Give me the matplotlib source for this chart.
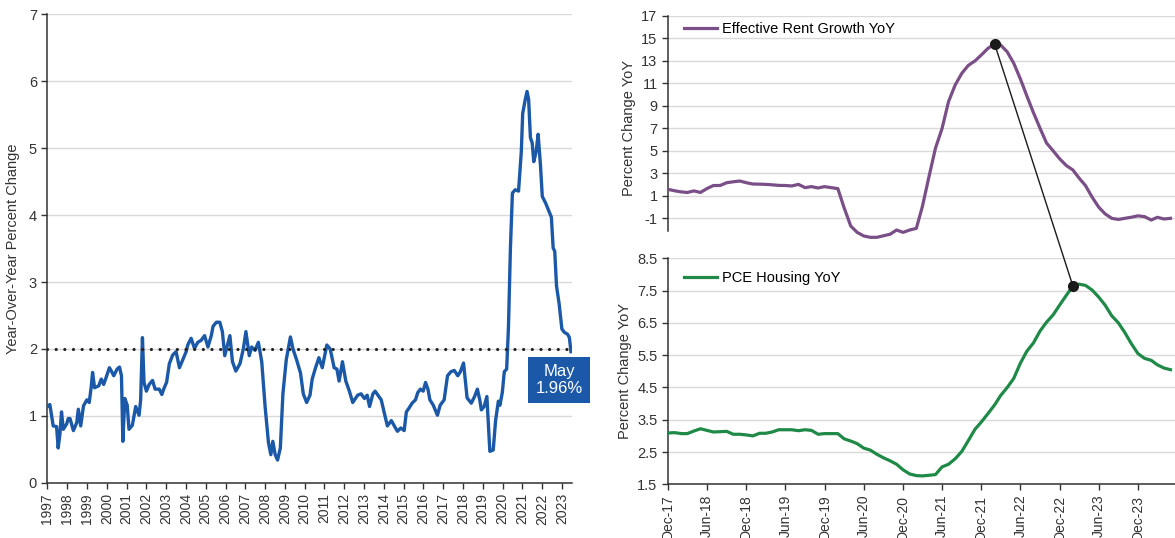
import numpy as np
import pandas as pd
import matplotlib
matplotlib.use('Agg')
import matplotlib.pyplot as plt
import matplotlib.dates as mdates
from matplotlib.patches import ConnectionPatch

plt.rcParams['font.family'] = ['Liberation Sans', 'DejaVu Sans']
plt.rcParams['axes.unicode_minus'] = False

# left panel: year-over-year percent change, 1997 - May 2023
left_years = [
    1997.00, 1997.12, 1997.29, 1997.46, 1997.54, 1997.63, 1997.71, 1997.80, 1997.97, 1998.05,
    1998.14, 1998.31, 1998.48, 1998.56, 1998.68, 1998.82, 1998.99, 1999.11, 1999.21, 1999.28,
    1999.38, 1999.59, 1999.72, 1999.84, 1999.96, 2000.13, 2000.23, 2000.35, 2000.52, 2000.64,
    2000.74, 2000.81, 2000.91, 2001.03, 2001.12, 2001.29, 2001.46, 2001.63, 2001.71, 2001.80,
    2001.88, 2002.00, 2002.14, 2002.31, 2002.44, 2002.65, 2002.78, 2002.90, 2003.02, 2003.16,
    2003.33, 2003.50, 2003.67, 2003.84, 2004.01, 2004.09, 2004.26, 2004.43, 2004.60, 2004.77,
    2004.94, 2005.11, 2005.28, 2005.37, 2005.54, 2005.71, 2005.84, 2005.96, 2006.08, 2006.22,
    2006.35, 2006.52, 2006.73, 2006.90, 2007.03, 2007.20, 2007.32, 2007.49, 2007.66, 2007.83,
    2008.00, 2008.17, 2008.29, 2008.39, 2008.51, 2008.63, 2008.77, 2008.90, 2009.07, 2009.28,
    2009.41, 2009.59, 2009.79, 2009.93, 2010.10, 2010.27, 2010.38, 2010.55, 2010.72, 2010.89,
    2011.12, 2011.29, 2011.49, 2011.63, 2011.74, 2011.91, 2012.08, 2012.26, 2012.43, 2012.68,
    2012.85, 2013.02, 2013.16, 2013.28, 2013.45, 2013.56, 2013.70, 2013.87, 2014.04, 2014.18,
    2014.38, 2014.55, 2014.69, 2014.86, 2015.03, 2015.14, 2015.26, 2015.43, 2015.60, 2015.72,
    2015.85, 2015.99, 2016.11, 2016.23, 2016.33, 2016.50, 2016.71, 2016.85, 2017.05, 2017.22,
    2017.39, 2017.56, 2017.74, 2017.87, 2018.03, 2018.21, 2018.42, 2018.59, 2018.73, 2018.85,
    2018.93, 2019.07, 2019.21, 2019.36, 2019.53, 2019.65, 2019.79, 2019.87, 2019.99, 2020.09,
    2020.21, 2020.30, 2020.40, 2020.50, 2020.64, 2020.81, 2020.95, 2021.02, 2021.15, 2021.24,
    2021.32, 2021.41, 2021.50, 2021.58, 2021.70, 2021.80, 2021.92, 2022.01, 2022.18, 2022.32,
    2022.47, 2022.56, 2022.64, 2022.73, 2022.86, 2023.00, 2023.12, 2023.29, 2023.38, 2023.46,
]
left_vals = [
    1.14, 1.17, 0.85, 0.84, 0.52, 0.73, 1.06, 0.80, 0.88, 0.96,
    0.96, 0.78, 0.90, 1.10, 0.85, 1.15, 1.24, 1.20, 1.43, 1.65,
    1.42, 1.45, 1.55, 1.47, 1.57, 1.72, 1.67, 1.60, 1.70, 1.73,
    1.60, 0.62, 1.26, 1.16, 0.80, 0.86, 1.14, 1.01, 1.24, 2.17,
    1.50, 1.37, 1.47, 1.53, 1.40, 1.40, 1.32, 1.42, 1.50, 1.78,
    1.91, 1.96, 1.72, 1.84, 1.96, 2.06, 2.16, 2.01, 2.10, 2.13,
    2.20, 2.03, 2.20, 2.34, 2.40, 2.40, 2.26, 1.90, 2.04, 2.20,
    1.81, 1.67, 1.78, 2.00, 2.26, 1.90, 2.03, 1.98, 2.10, 1.81,
    1.14, 0.60, 0.42, 0.62, 0.42, 0.34, 0.52, 1.33, 1.84, 2.18,
    2.00, 1.84, 1.64, 1.33, 1.20, 1.31, 1.55, 1.72, 1.87, 1.72,
    2.06, 2.00, 1.72, 1.70, 1.52, 1.81, 1.52, 1.37, 1.20, 1.31,
    1.33, 1.26, 1.31, 1.14, 1.33, 1.37, 1.31, 1.24, 1.03, 0.85,
    0.93, 0.84, 0.77, 0.82, 0.78, 1.06, 1.11, 1.19, 1.24, 1.35,
    1.40, 1.37, 1.50, 1.40, 1.24, 1.16, 1.01, 1.16, 1.24, 1.60,
    1.66, 1.68, 1.60, 1.66, 1.79, 1.27, 1.19, 1.29, 1.40, 1.24,
    1.09, 1.14, 1.29, 0.47, 0.49, 0.93, 1.22, 1.16, 1.35, 1.66,
    1.70, 2.32, 3.51, 4.33, 4.38, 4.36, 4.95, 5.52, 5.73, 5.85,
    5.73, 5.16, 5.08, 4.80, 4.95, 5.21, 4.74, 4.28, 4.18, 4.08,
    3.97, 3.51, 3.46, 2.94, 2.68, 2.30, 2.25, 2.22, 2.17, 1.96,
]
left_target = 2.0
left_last_label = "May"

# right panels: monthly, Dec-17 onwards
months = pd.date_range('2017-12-01', periods=78, freq='MS')
rent_growth = [
    1.58, 1.45, 1.35, 1.30, 1.44, 1.30, 1.65, 1.92, 1.92, 2.17,
    2.25, 2.32, 2.17, 2.05, 2.04, 2.02, 1.98, 1.93, 1.92, 1.88,
    2.02, 1.73, 1.82, 1.70, 1.82, 1.73, 1.64, -0.05, -1.68, -2.25,
    -2.57, -2.69, -2.69, -2.55, -2.42, -2.04, -2.25, -2.04, -1.89, 0.04,
    2.71, 5.23, 7.00, 9.38, 10.86, 11.90, 12.60, 13.00, 13.53, 14.12,
    14.51, 14.42, 13.80, 12.80, 11.40, 9.90, 8.40, 7.00, 5.70, 5.00,
    4.30, 3.70, 3.30, 2.60, 1.90, 0.90, 0.00, -0.60, -1.00, -1.10,
    -1.00, -0.90, -0.78, -0.85, -1.15, -0.91, -1.06, -1.00,
]
pce_housing = [
    3.09, 3.10, 3.07, 3.07, 3.15, 3.22, 3.17, 3.12, 3.13, 3.14,
    3.05, 3.05, 3.03, 3.00, 3.08, 3.08, 3.12, 3.19, 3.19, 3.19,
    3.16, 3.19, 3.17, 3.05, 3.07, 3.07, 3.07, 2.91, 2.84, 2.76,
    2.62, 2.56, 2.43, 2.32, 2.23, 2.12, 1.95, 1.82, 1.77, 1.76,
    1.78, 1.80, 2.04, 2.12, 2.29, 2.52, 2.85, 3.20, 3.43, 3.69,
    3.96, 4.25, 4.50, 4.78, 5.25, 5.62, 5.88, 6.25, 6.52, 6.75,
    7.05, 7.35, 7.64, 7.70, 7.66, 7.52, 7.30, 7.05, 6.72, 6.50,
    6.20, 5.85, 5.55, 5.40, 5.34, 5.20, 5.10, 5.05,
]
rent_peak = '2022-02-01'
pce_peak = '2023-02-01'

BLUE = '#1b58a7'
PURPLE = '#7a4e86'
GREEN = '#1f8a47'
GRID = '#d9d9d9'
TXT = '#333333'


def style_axis(ax):
    ax.set_facecolor('none')
    ax.grid(axis='y', color=GRID, lw=1.0)
    ax.set_axisbelow(True)
    for s in ['top', 'right']:
        ax.spines[s].set_visible(False)
    for s in ['left', 'bottom']:
        ax.spines[s].set_color(TXT)
        ax.spines[s].set_linewidth(1.1)
    ax.tick_params(colors=TXT, labelsize=10.5, length=4, width=1)


fig = plt.figure(figsize=(11.75, 5.38), dpi=100)

# ---- left chart
ax1 = fig.add_axes([0.0404, 0.1026, 0.4462, 0.8705])
style_axis(ax1)
ax1.plot(left_years, left_vals, color=BLUE, lw=2.4, solid_joinstyle='round', zorder=3)
ax1.axhline(left_target, color='#222222', lw=2.3, dashes=(0.01, 2.7),
            dash_capstyle='round', zorder=4)
ax1.set_xlim(1997, 2023.5)
ax1.set_ylim(0, 7)
ax1.set_yticks(range(0, 8))
ax1.set_xticks(range(1997, 2024))
ax1.set_xticklabels([str(y) for y in range(1997, 2024)], rotation=90, fontsize=10)
ax1.set_ylabel('Year-Over-Year Percent Change', fontsize=10.5, color=TXT, labelpad=6)
ax1.text(2022.86, 1.54, f"{left_last_label}\n{left_vals[-1]:.2f}%", ha='center', va='center',
         color='white', fontsize=12, linespacing=1.15, clip_on=False, zorder=6,
         bbox=dict(boxstyle='square,pad=0.42', fc=BLUE, ec='none'))

# ---- right top chart
ax2 = fig.add_axes([0.5685, 0.5524, 0.4315, 0.4179])
style_axis(ax2)
ax2.plot(months, rent_growth, color=PURPLE, lw=2.3, label='Effective Rent Growth YoY', zorder=3)
ax2.set_ylim(-3.0, 17)
ax2.set_yticks(range(-1, 18, 2))
ax2.spines['left'].set_bounds(-2.1, 17)
ax2.spines['bottom'].set_visible(False)
ax2.tick_params(axis='x', bottom=False, labelbottom=False)
ax2.set_ylabel('Percent Change YoY', fontsize=10.5, color=TXT, labelpad=4)
ax2.legend(loc='upper left', frameon=False, fontsize=10.5, handlelength=2.3,
           handletextpad=0.3, bbox_to_anchor=(0.005, 1.03))

# ---- right bottom chart
ax3 = fig.add_axes([0.5685, 0.0998, 0.4315, 0.4201], sharex=ax2)
style_axis(ax3)
ax3.plot(months, pce_housing, color=GREEN, lw=2.3, label='PCE Housing YoY', zorder=3)
ax3.set_ylim(1.5, 8.5)
ax3.set_yticks(np.arange(1.5, 8.6, 1.0))
ax3.set_ylabel('Percent Change YoY', fontsize=10.5, color=TXT, labelpad=4)
ax3.legend(loc='upper left', frameon=False, fontsize=10.5, handlelength=2.3,
           handletextpad=0.3, bbox_to_anchor=(0.005, 1.0))

xt = pd.date_range('2017-12-01', '2023-12-01', freq='6MS')
ax3.set_xticks(xt)
ax3.xaxis.set_major_formatter(mdates.DateFormatter('%b-%y'))
ax3.set_xlim(months[0], pd.Timestamp('2024-05-22'))
plt.setp(ax3.get_xticklabels(), rotation=90, fontsize=10)

# peak markers and connector
p1 = pd.Timestamp(rent_peak)
p2 = pd.Timestamp(pce_peak)
v1 = rent_growth[list(months).index(p1)]
v2 = pce_housing[list(months).index(p2)]
ax2.plot([p1], [v1], 'o', color='#1a1a1a', ms=7, zorder=5)
ax3.plot([p2], [v2], 'o', color='#1a1a1a', ms=7, zorder=5)
con = ConnectionPatch(xyA=(mdates.date2num(p1), v1), coordsA=ax2.transData,
                      xyB=(mdates.date2num(p2), v2), coordsB=ax3.transData,
                      color='#1a1a1a', lw=1.0, zorder=4)
fig.add_artist(con)

fig.savefig('out.png', dpi=100)
